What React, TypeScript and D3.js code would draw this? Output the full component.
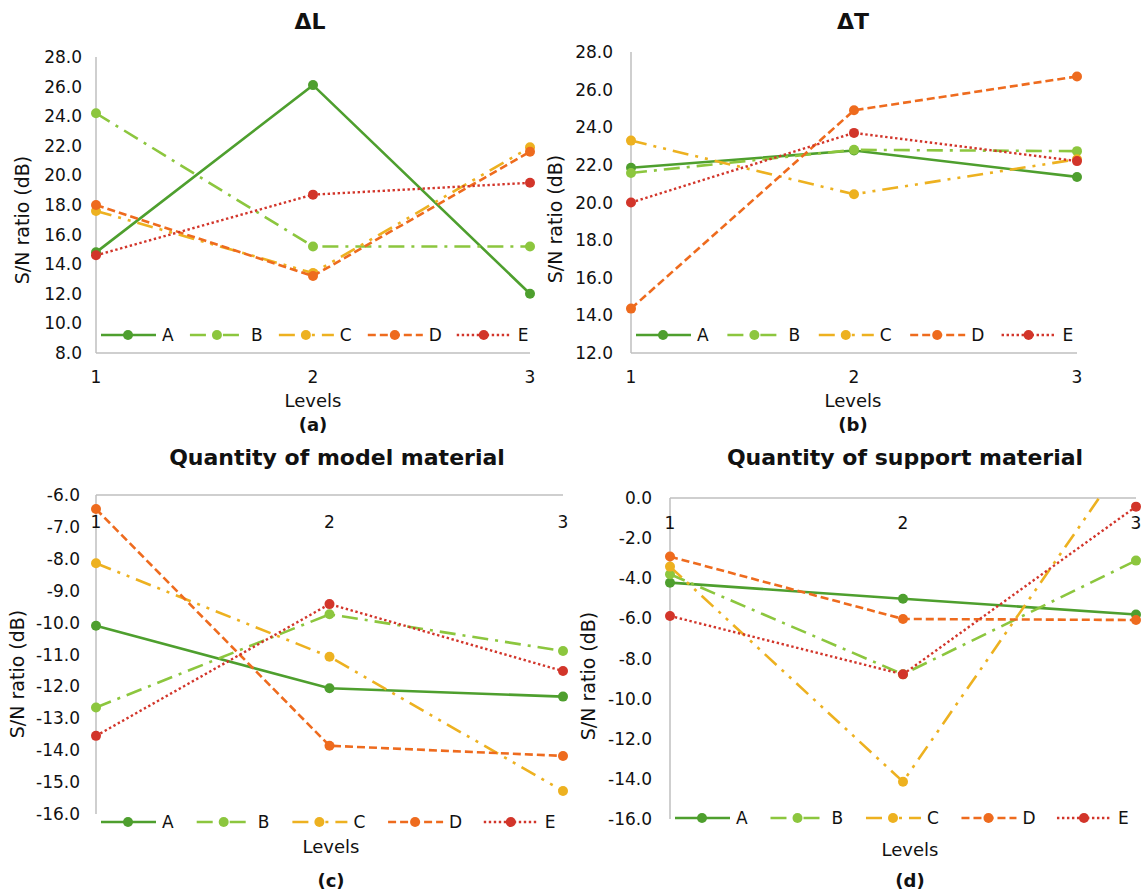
import React from 'react';
import * as d3 from 'd3';

// levels on the x axis and factor names
const levels = [1, 2, 3];
const factors = ['A', 'B', 'C', 'D', 'E'];

// S/N ratio (dB) per factor (rows A..E), per level (columns 1..3)
const deltaL = [
  [14.8, 26.1, 12.0],
  [24.2, 15.2, 15.2],
  [17.6, 13.4, 21.9],
  [18.0, 13.2, 21.6],
  [14.6, 18.7, 19.5],
];
const deltaT = [
  [21.85, 22.76, 21.36],
  [21.57, 22.8, 22.73],
  [23.29, 20.44, 22.3],
  [14.36, 24.9, 26.7],
  [20.0, 23.7, 22.2],
];
const modelMaterial = [
  [-10.1, -12.06, -12.32],
  [-12.66, -9.74, -10.89],
  [-8.14, -11.07, -15.28],
  [-6.44, -13.86, -14.18],
  [-13.55, -9.42, -11.52],
];
const supportMaterial = [
  [-4.22, -5.02, -5.81],
  [-3.8, -8.79, -3.12],
  [-3.42, -14.14, 2.66],
  [-2.92, -6.03, -6.08],
  [-5.88, -8.79, -0.43],
];

const titles = ['ΔL', 'ΔT', 'Quantity of model material', 'Quantity of support material'];
const captions = ['(a)', '(b)', '(c)', '(d)'];

const colors = ['#4E9F2E', '#8CC63E', '#EDB120', '#EE6B1E', '#D2352A'];
const dashes = ['none', '16 7 3 7', '16 7 3 7 3 7', '8 4', '2.4 2.6'];
const font = 'DejaVu Sans, sans-serif';

const panels = [
  { data: deltaL, x0: 96, x1: 530, yTop: 57, yBot: 353, domain: [8, 28], step: 2, top: false,
    titleX: 310, titleY: 21, tickY: 377, levelsY: 400, capY: 424, cx: 313, yTitleX: 22, yTitleY: 220, legendY: 335, tickRight: 82 },
  { data: deltaT, x0: 631, x1: 1077, yTop: 52, yBot: 353, domain: [12, 28], step: 2, top: false,
    titleX: 853, titleY: 21, tickY: 377, levelsY: 400, capY: 424, cx: 853, yTitleX: 555, yTitleY: 219, legendY: 335, tickRight: 613 },
  { data: modelMaterial, x0: 96, x1: 563, yTop: 495, yBot: 814, domain: [-16, -6], step: 1, top: true,
    titleX: 337, titleY: 457, tickY: 522, levelsY: 846, capY: 880, cx: 331, yTitleX: 17, yTitleY: 674, legendY: 822, tickRight: 80 },
  { data: supportMaterial, x0: 670, x1: 1136, yTop: 498, yBot: 819, domain: [-16, 0], step: 2, top: true,
    titleX: 905, titleY: 457, tickY: 523, levelsY: 849, capY: 880, cx: 910, yTitleX: 588, yTitleY: 676, legendY: 818, tickRight: 652 },
];

function Panel({ p, i }: { p: any; i: number }) {
  const x = d3.scalePoint<number>().domain(levels).range([p.x0, p.x1]);
  const y = d3.scaleLinear().domain(p.domain).range([p.yBot, p.yTop]);
  const ticks = d3.range(p.domain[0], p.domain[1] + p.step / 2, p.step);
  const line = d3.line<number>().x((_, j) => x(levels[j])!).y(d => y(d));
  const axisY = p.top ? p.yTop : p.yBot;
  const clipId = `clip${i}`;
  const spacing = (p.x1 - p.x0) / 4.88;
  return (
    <g>
      <defs>
        <clipPath id={clipId}>
          <rect x={p.x0 - 8} y={p.yTop} width={p.x1 - p.x0 + 16} height={p.yBot - p.yTop + 8} />
        </clipPath>
      </defs>
      <text x={p.titleX} y={p.titleY} textAnchor="middle" dominantBaseline="central" fontSize={22} fontWeight="bold">{titles[i]}</text>
      {/* axes */}
      <line x1={p.x0} x2={p.x0} y1={p.yTop} y2={p.yBot} stroke="#BFBFBF" strokeWidth={1.5} />
      <line x1={p.x0} x2={p.x1} y1={axisY} y2={axisY} stroke="#BFBFBF" strokeWidth={1.5} />
      {ticks.map(t => (
        <text key={t} x={p.tickRight} y={y(t)} textAnchor="end" dominantBaseline="central" fontSize={17}>{t.toFixed(1)}</text>
      ))}
      {levels.map(l => (
        <text key={l} x={x(l)} y={p.tickY} textAnchor="middle" dominantBaseline="central" fontSize={17}>{l}</text>
      ))}
      <text x={p.cx} y={p.levelsY} textAnchor="middle" dominantBaseline="central" fontSize={18}>Levels</text>
      <text x={p.cx} y={p.capY} textAnchor="middle" dominantBaseline="central" fontSize={18} fontWeight="bold">{captions[i]}</text>
      <text transform={`translate(${p.yTitleX},${p.yTitleY}) rotate(-90)`} textAnchor="middle" dominantBaseline="central" fontSize={19}>S/N ratio (dB)</text>
      {/* series */}
      <g clipPath={`url(#${clipId})`}>
        {p.data.map((s: number[], k: number) => (
          <g key={k}>
            <path d={line(s)!} fill="none" stroke={colors[k]} strokeWidth={k === 4 ? 2.4 : 2.6} strokeDasharray={dashes[k]} />
            {s.map((v, j) => (
              <circle key={j} cx={x(levels[j])} cy={y(v)} r={5} fill={colors[k]} />
            ))}
          </g>
        ))}
      </g>
      {/* legend */}
      {factors.map((f, k) => {
        const mx = p.x0 + 32 + k * spacing;
        return (
          <g key={f}>
            <line x1={mx - 27} x2={mx + 28} y1={p.legendY} y2={p.legendY} stroke={colors[k]} strokeWidth={k === 4 ? 2.4 : 2.6} strokeDasharray={dashes[k]} />
            <circle cx={mx} cy={p.legendY} r={5} fill={colors[k]} />
            <text x={mx + 34} y={p.legendY} dominantBaseline="central" fontSize={17}>{f}</text>
          </g>
        );
      })}
    </g>
  );
}

export default function App() {
  return (
    <svg width={1147} height={895} style={{ position: 'absolute', left: 0, top: 0, background: '#fff' }} fontFamily={font} fill="#111">
      {panels.map((p, i) => <Panel key={i} p={p} i={i} />)}
    </svg>
  );
}
